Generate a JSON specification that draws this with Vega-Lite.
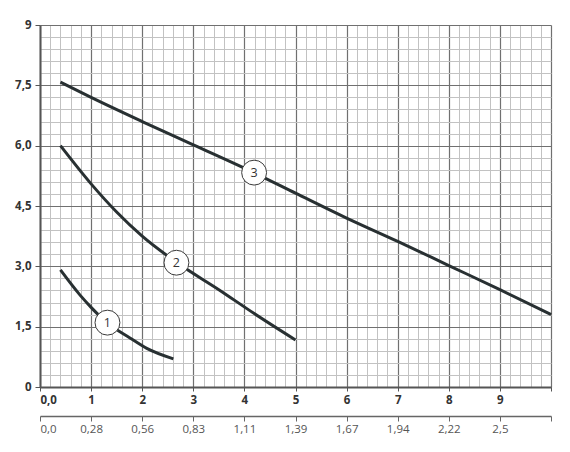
{
  "$schema": "https://vega.github.io/schema/vega-lite/v6.json",
  "width": 511,
  "height": 362,
  "autosize": "none",
  "padding": {"left": 40, "top": 25, "right": 19, "bottom": 65},
  "background": "white",
  "config": {
    "view": {"stroke": null},
    "axis": {"labelFont": "Open Sans", "labelFontSize": 11, "title": null}
  },
  "datasets": {
    "curves": [
      {"curve": "1", "x": 0.4, "y": 2.91},
      {"curve": "1", "x": 0.78, "y": 2.29},
      {"curve": "1", "x": 1.0, "y": 1.98},
      {"curve": "1", "x": 1.31, "y": 1.6},
      {"curve": "1", "x": 1.76, "y": 1.22},
      {"curve": "1", "x": 2.09, "y": 0.96},
      {"curve": "1", "x": 2.61, "y": 0.7},
      {"curve": "2", "x": 0.4, "y": 6.0},
      {"curve": "2", "x": 1.0, "y": 5.05},
      {"curve": "2", "x": 1.5, "y": 4.35},
      {"curve": "2", "x": 2.0, "y": 3.75},
      {"curve": "2", "x": 2.67, "y": 3.1},
      {"curve": "2", "x": 3.5, "y": 2.42},
      {"curve": "2", "x": 4.2, "y": 1.82},
      {"curve": "2", "x": 5.0, "y": 1.17},
      {"curve": "3", "x": 0.4, "y": 7.58},
      {"curve": "3", "x": 1.0, "y": 7.2},
      {"curve": "3", "x": 2.0, "y": 6.6},
      {"curve": "3", "x": 3.0, "y": 6.02},
      {"curve": "3", "x": 4.2, "y": 5.32},
      {"curve": "3", "x": 5.0, "y": 4.82},
      {"curve": "3", "x": 6.0, "y": 4.2},
      {"curve": "3", "x": 7.0, "y": 3.62},
      {"curve": "3", "x": 8.0, "y": 3.02},
      {"curve": "3", "x": 9.0, "y": 2.42},
      {"curve": "3", "x": 10.0, "y": 1.8}
    ],
    "labels": [
      {"label": "1", "x": 1.32, "y": 1.6},
      {"label": "2", "x": 2.67, "y": 3.09},
      {"label": "3", "x": 4.19, "y": 5.33}
    ]
  },
  "layer": [
    {
      "data": {"name": "curves"},
      "mark": {"type": "line", "opacity": 0},
      "encoding": {
        "detail": {"field": "curve"},
        "x": {
          "field": "x", "type": "quantitative",
          "scale": {"domain": [0, 10], "nice": false, "zero": false},
          "axis": {
            "orient": "bottom",
            "values": [0.2, 0.4, 0.6, 0.8, 1.2, 1.4, 1.6, 1.8, 2.2, 2.4, 2.6, 2.8, 3.2, 3.4, 3.6, 3.8, 4.2, 4.4, 4.6, 4.8, 5.2, 5.4, 5.6, 5.8, 6.2, 6.4, 6.6, 6.8, 7.2, 7.4, 7.6, 7.8, 8.2, 8.4, 8.6, 8.8, 9.2, 9.4, 9.6, 9.8],
            "grid": true, "gridColor": "#c2c2c2", "gridWidth": 1,
            "labels": false, "ticks": false, "domain": false
          }
        },
        "y": {
          "field": "y", "type": "quantitative",
          "scale": {"domain": [0, 9], "nice": false, "zero": false},
          "axis": {
            "orient": "left",
            "values": [0.3, 0.6, 0.9, 1.2, 1.8, 2.1, 2.4, 2.7, 3.3, 3.6, 3.9, 4.2, 4.8, 5.1, 5.4, 5.7, 6.3, 6.6, 6.9, 7.2, 7.8, 8.1, 8.4, 8.7],
            "grid": true, "gridColor": "#c2c2c2", "gridWidth": 1,
            "labels": false, "ticks": false, "domain": false
          }
        }
      }
    },
    {
      "data": {"name": "curves"},
      "mark": {"type": "line", "opacity": 0},
      "encoding": {
        "detail": {"field": "curve"},
        "x": {
          "field": "x", "type": "quantitative",
          "scale": {"domain": [0, 10], "nice": false, "zero": false},
          "axis": {
            "orient": "bottom",
            "values": [0, 1, 2, 3, 4, 5, 6, 7, 8, 9, 10],
            "grid": true, "gridColor": "#707070", "gridWidth": 1.2,
            "domain": true, "domainColor": "#555555", "domainWidth": 2,
            "ticks": true, "tickColor": "#555555", "tickSize": 4,
            "labelPadding": 3, "labelFontWeight": "bold", "labelColor": "#333333",
            "labelFontSize": 11.5,
            "labelExpr": "datum.value == 0 ? '0,0' : (datum.value == 10 ? '' : datum.label)"
          }
        },
        "y": {
          "field": "y", "type": "quantitative",
          "scale": {"domain": [0, 9], "nice": false, "zero": false},
          "axis": {
            "orient": "left",
            "values": [0, 1.5, 3, 4.5, 6, 7.5, 9],
            "grid": true, "gridColor": "#707070", "gridWidth": 1.2,
            "domain": true, "domainColor": "#555555", "domainWidth": 2,
            "ticks": true, "tickColor": "#555555", "tickSize": 5,
            "labelPadding": 4, "labelFontWeight": "bold", "labelColor": "#333333",
            "labelFontSize": 11.5,
            "labelExpr": "datum.value == 0 ? '0' : (datum.value == 9 ? '9' : replace(format(datum.value, '.1f'), '.', ','))"
          }
        }
      }
    },
    {
      "data": {"name": "curves"},
      "mark": {"type": "line", "color": "#283032", "strokeWidth": 3, "interpolate": "monotone"},
      "encoding": {
        "detail": {"field": "curve"},
        "x": {
          "field": "x", "type": "quantitative",
          "scale": {"domain": [0, 10], "nice": false, "zero": false},
          "axis": {
            "orient": "bottom",
            "offset": 29,
            "values": [0, 1, 2, 3, 4, 5, 6, 7, 8, 9, 10],
            "grid": false,
            "domain": true, "domainColor": "#666666", "domainWidth": 1.5,
            "ticks": true, "tickColor": "#666666", "tickSize": 5,
            "labelPadding": 2, "labelColor": "#555555", "labelFontSize": 11.5,
            "labelExpr": "['0,0','0,28','0,56','0,83','1,11','1,39','1,67','1,94','2,22','2,5',''][datum.value]"
          }
        },
        "y": {
          "field": "y", "type": "quantitative",
          "scale": {"domain": [0, 9], "nice": false, "zero": false},
          "axis": null
        }
      }
    },
    {
      "data": {"name": "labels"},
      "mark": {"type": "point", "shape": "circle", "filled": false, "fill": "white", "fillOpacity": 1, "stroke": "#3a3a3a", "strokeWidth": 1, "size": 620, "opacity": 1},
      "encoding": {
        "x": {"field": "x", "type": "quantitative", "scale": {"domain": [0, 10], "nice": false, "zero": false}, "axis": null},
        "y": {"field": "y", "type": "quantitative", "scale": {"domain": [0, 9], "nice": false, "zero": false}, "axis": null}
      }
    },
    {
      "data": {"name": "labels"},
      "mark": {"type": "text", "font": "Open Sans", "fontSize": 12.5, "color": "#333333", "align": "center", "baseline": "middle"},
      "encoding": {
        "x": {"field": "x", "type": "quantitative", "scale": {"domain": [0, 10], "nice": false, "zero": false}, "axis": null},
        "y": {"field": "y", "type": "quantitative", "scale": {"domain": [0, 9], "nice": false, "zero": false}, "axis": null},
        "text": {"field": "label"}
      }
    }
  ],
  "resolve": {"axis": {"x": "independent", "y": "independent"}}
}
